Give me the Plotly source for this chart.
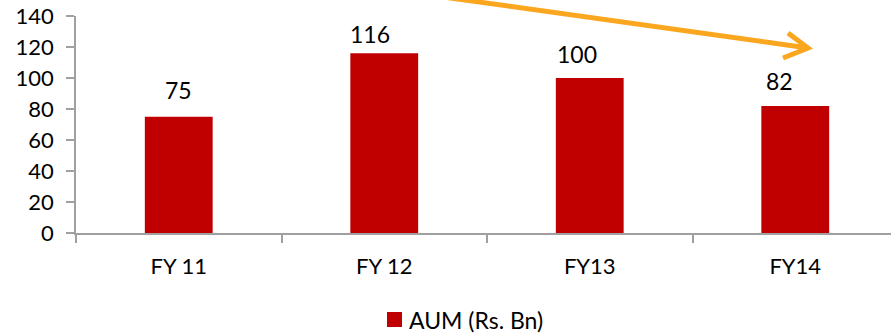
import plotly.graph_objects as go

# Assets under management by fiscal year
categories = ["FY 11", "FY 12", "FY13", "FY14"]
aum_values = [75, 116, 100, 82]
y_ticks = [0, 20, 40, 60, 80, 100, 120, 140]
series_name = "AUM (Rs. Bn)"

# Hand-placed offsets (pixels) for each value label, relative to the bar top centre
label_dx = [0, -14, -13, -16]
label_dy = [27, 19, 24, 25]

BAR_RED = "#C00000"
AXIS_GREY = "#A0A0A0"
ARROW_ORANGE = "#FBA61F"
FONT = "Lato"

W, H = 891, 333
M_L, M_R, M_T, M_B = 76, 0, 16, 100
PLOT_W = W - M_L - M_R
PLOT_H = H - M_T - M_B


def px_to_paper(px, py):
    """Convert window pixel coordinates to paper coordinates."""
    return (px - M_L) / PLOT_W, (H - M_B - py) / PLOT_H


fig = go.Figure()
fig.add_trace(go.Bar(
    x=categories,
    y=aum_values,
    name=series_name,
    marker=dict(color=BAR_RED, line=dict(width=0)),
    showlegend=False,
    hoverinfo="x+y",
))

# Value labels above each bar
for cat, val, dx, dy in zip(categories, aum_values, label_dx, label_dy):
    fig.add_annotation(
        x=cat, y=val, xref="x", yref="y",
        text=str(val), showarrow=False,
        yanchor="middle", xshift=dx, yshift=dy,
        font=dict(family=FONT, size=23, color="black"),
    )

# Downward trend arrow across the top of the chart
tail = px_to_paper(300, -23)
tip = px_to_paper(808, 48)
wing_a = px_to_paper(788, 33)
wing_b = px_to_paper(783, 58)
path = (f"M{tail[0]},{tail[1]} L{tip[0]},{tip[1]} "
        f"M{wing_a[0]},{wing_a[1]} L{tip[0]},{tip[1]} L{wing_b[0]},{wing_b[1]}")
fig.add_shape(type="path", path=path, xref="paper", yref="paper",
              line=dict(color=ARROW_ORANGE, width=5))

# Legend: swatch plus label below the axis
sx0, sy0 = px_to_paper(387, 327)
sx1, sy1 = px_to_paper(402, 312)
fig.add_shape(type="rect", xref="paper", yref="paper",
              x0=sx0, y0=sy0, x1=sx1, y1=sy1,
              fillcolor=BAR_RED, line=dict(width=0))
lx, ly = px_to_paper(407, 320)
fig.add_annotation(
    x=lx, y=ly, xref="paper", yref="paper",
    text=series_name, showarrow=False,
    xanchor="left", yanchor="middle",
    font=dict(family=FONT, size=23, color="black"),
)

fig.update_layout(
    width=W, height=H,
    margin=dict(l=M_L, r=M_R, t=M_T, b=M_B, pad=0),
    paper_bgcolor="white",
    plot_bgcolor="white",
    bargap=0.67,
    font=dict(family=FONT, color="black"),
    showlegend=False,
)

fig.update_xaxes(
    type="category",
    range=[-0.5, -0.5 + PLOT_W / 205.5],
    showgrid=False, zeroline=False,
    showline=True, linecolor=AXIS_GREY, linewidth=1.5,
    ticks="outside", ticklen=8, tickcolor=AXIS_GREY, tickwidth=1.5,
    tickson="boundaries",
    ticklabelstandoff=13,
    tickfont=dict(family=FONT, size=22, color="black"),
)

fig.update_yaxes(
    range=[0, 140],
    tickvals=y_ticks,
    showgrid=False, zeroline=False,
    showline=True, linecolor=AXIS_GREY, linewidth=1.5,
    ticks="outside", ticklen=8, tickcolor=AXIS_GREY, tickwidth=1.5,
    ticklabelstandoff=8,
    tickfont=dict(family=FONT, size=22, color="black"),
)

fig.write_html("out.html")
